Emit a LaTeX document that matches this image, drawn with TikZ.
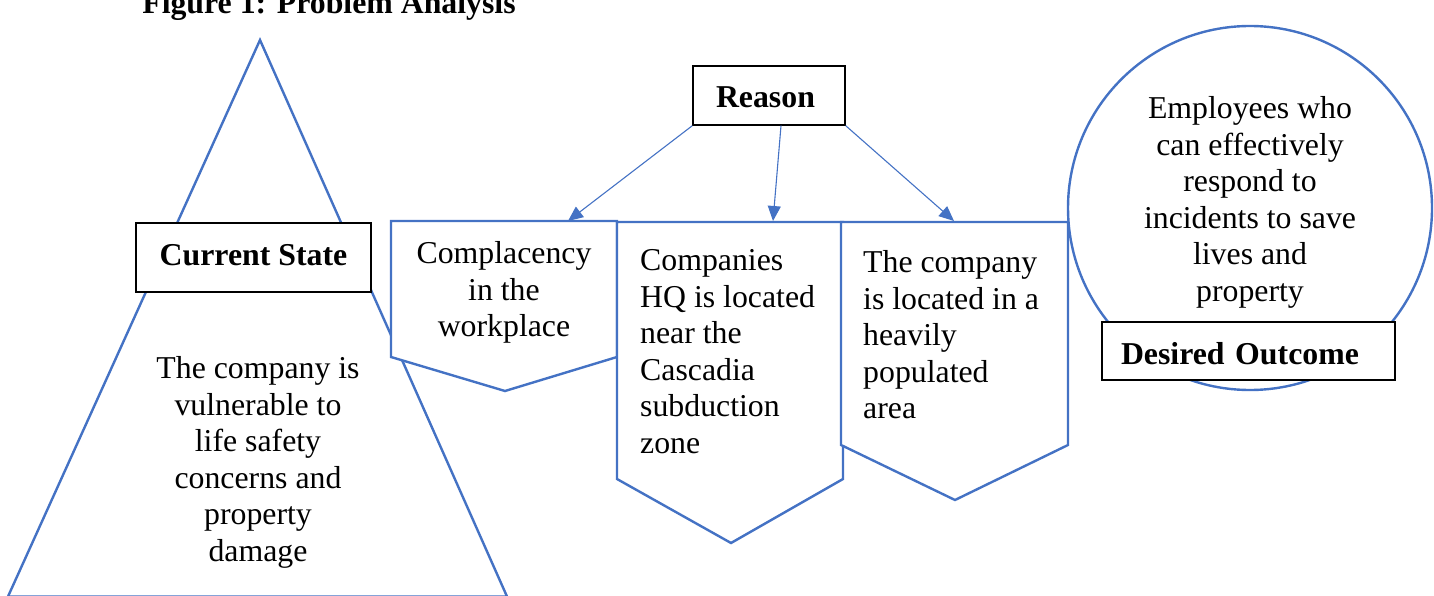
\documentclass[tikz,border=0pt]{standalone}
\usepackage{fontspec}
\setmainfont{Liberation Serif}
\usetikzlibrary{arrows.meta}
\definecolor{wblue}{HTML}{4472C4}
\begin{document}
\begin{tikzpicture}[x=1pt,y=-1pt,
  blueshape/.style={draw=wblue,line width=2.4pt,fill=white,line join=miter},
  body/.style={font=\fontsize{31.8}{36.6}\selectfont,inner sep=0pt},
  tag/.style={draw=black,line width=1.4pt,fill=white,font=\bfseries\fontsize{31.8}{36.6}\selectfont},
  conn/.style={draw=wblue,line width=1.1pt,-{Triangle[length=15pt,width=13pt]}}]
\useasboundingbox (0,0) rectangle (1434,596);

% title
\node[font=\bfseries\fontsize{31.8}{36.6}\selectfont, anchor=base, inner sep=0pt] (title) at (329,14) {Figure 1: Problem Analysis};

% current state triangle
\draw[blueshape] (260,40) -- (8,596.5) -- (507,596.5) -- cycle;
\node[tag, minimum width=235pt, minimum height=69pt, inner sep=0pt, text height=22pt, text depth=7pt] (cs) at (253.5,257.5) {Current State};
\node[body, align=center, anchor=north] (cstext) at (258,356.3) {The company is\\vulnerable to\\life safety\\concerns and\\property\\damage};

% reason pentagons
\draw[blueshape] (391,221) -- (617,221) -- (617,357) -- (505,391) -- (391,357) -- cycle;
\node[body, align=center, anchor=north] (p1text) at (504,241.3) {Complacency\\in the\\workplace};
\draw[blueshape] (617,222) -- (843,222) -- (843,479) -- (731,543) -- (617,479) -- cycle;
\node[body, align=left, anchor=north west] (p2text) at (640,249.3) {Companies\\HQ is located\\near the\\Cascadia\\subduction\\zone};
\draw[blueshape] (841,222) -- (1068,222) -- (1068,445) -- (955,500) -- (841,445) -- cycle;
\node[body, align=left, anchor=north west] (p3text) at (863,250.3) {The company\\is located in a\\heavily\\populated\\area};

% desired outcome circle
\draw[draw=wblue,line width=2.4pt] (1250,208) circle[radius=182pt];
\node[body, align=center, anchor=north] (dotext) at (1250,96.3) {Employees who\\can effectively\\respond to\\incidents to save\\lives and\\property};
\node[tag, text width=255pt, align=left, inner xsep=19pt, inner ysep=0pt, minimum height=58pt, text height=26pt, text depth=0pt] (do) at (1248.5,351) {Desired Outcome};

% reason box and arrows
\node[tag, text width=106pt, align=left, inner xsep=23pt, inner ysep=0pt, minimum height=59pt, text height=25pt, text depth=0pt] (reason) at (769,95.5) {Reason};
\coordinate (t1) at (568,221);
\coordinate (t2) at (773,221);
\coordinate (t3) at (954,221);
\draw[conn] (reason.south west) -- (t1);
\draw[conn] ([xshift=12pt]reason.south) -- (t2);
\draw[conn] (reason.south east) -- (t3);
\end{tikzpicture}
\end{document}
